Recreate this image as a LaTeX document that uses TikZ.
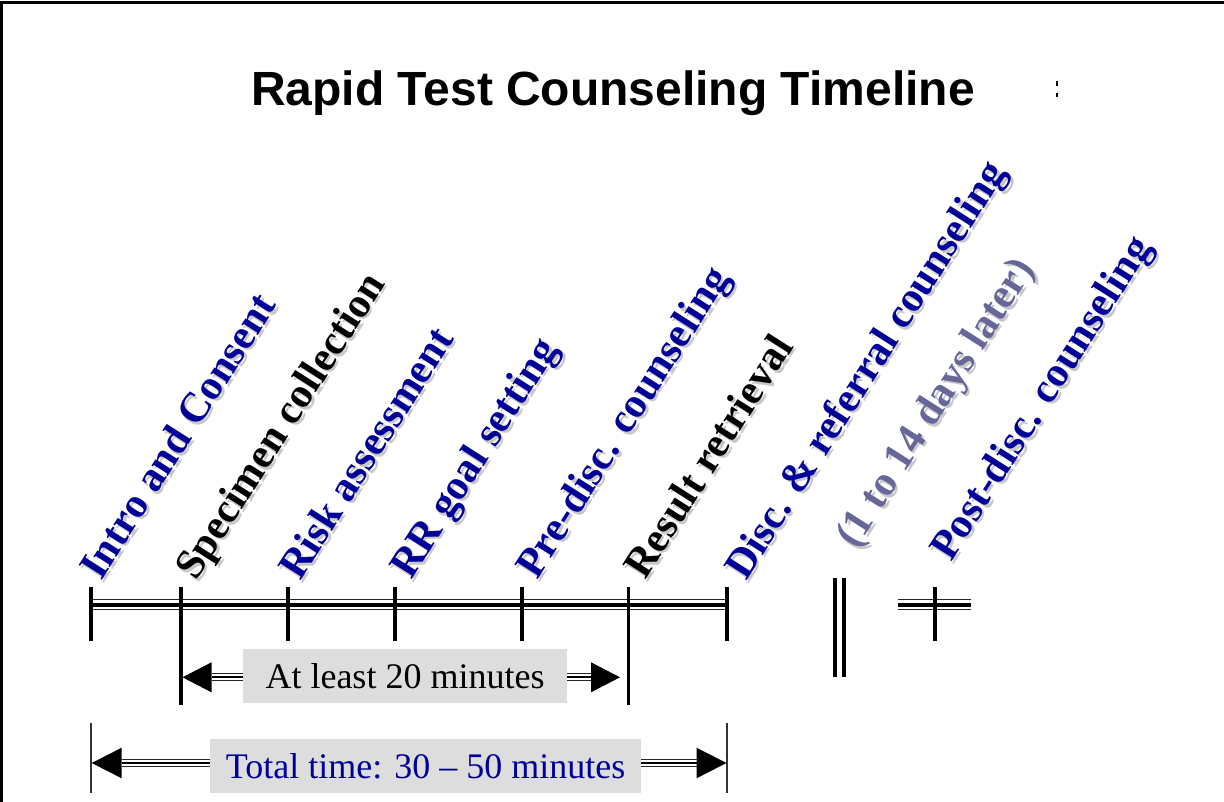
\documentclass[tikz,border=0pt]{standalone}
\usepackage{fontspec}
\setmainfont{Liberation Serif}
\newfontfamily\titlefont{Liberation Sans}
\definecolor{lblue}{RGB}{0,0,153}
\definecolor{lgrayblue}{RGB}{102,102,153}
\definecolor{boxgray}{RGB}{221,221,221}
\definecolor{shadowgray}{RGB}{200,200,200}
\newcommand{\slabel}[4]{%
  \node[lbl, text=shadowgray] at ([shift={(2.5,2.5)}]#2) {#4};
  \node[lbl, text=#3] (#1) at (#2) {#4};}
\newcommand{\tripshaft}[2]{%
  \draw[shaftthick] (#1) -- (#2);
  \draw[shaftthin] ([shift={(0,-3.6)}]#1) -- ([shift={(0,-3.6)}]#2);
  \draw[shaftthin] ([shift={(0,3.6)}]#1) -- ([shift={(0,3.6)}]#2);}
\begin{document}
\begin{tikzpicture}[x=1pt,y=-1pt,
  tickmark/.style={line width=3.6pt},
  thinrule/.style={line width=1.3pt, black!85},
  thickrule/.style={line width=4pt},
  shaftthin/.style={line width=1pt, black!85},
  shaftthick/.style={line width=2pt},
  lbl/.style={rotate=57.5, anchor=base west, inner sep=0pt,
    font=\fontsize{42}{42}\bfseries\selectfont},
  boxtext/.style={fill=boxgray, inner sep=0pt,
    font=\fontsize{36}{36}\selectfont},
  headtip/.style={fill=black}]
\useasboundingbox (0,0) rectangle (1224,802);
% frame
\draw[line width=2.6pt] (1.3,802) -- (1.3,2.6) -- (1224,2.6);
% title
\node[font=\titlefont\bfseries\fontsize{48}{48}\selectfont, anchor=base, inner sep=0pt]
  (title) at (613,106) {Rapid Test Counseling Timeline};
\draw[line width=1.2pt] (1057,81.5) -- (1057,86.5) (1057,93) -- (1057,97);
% tick coordinates
\coordinate (t1) at (91,587);
\coordinate (t2) at (180.7,587);
\coordinate (t3) at (287.7,587);
\coordinate (t4) at (395,587);
\coordinate (t5) at (521.7,587);
\coordinate (t6) at (628.3,587);
\coordinate (t7) at (727,587);
\coordinate (t9) at (935,587);
% main timeline (triple rule)
\draw[thinrule] (91,599.6) -- (727,599.6);
\draw[thickrule] (91,604.7) -- (727,604.7);
\draw[thinrule] (91,609.6) -- (727,609.6);
% post segment
\draw[thinrule] (898,599.6) -- (971,599.6);
\draw[thickrule] (898,604.7) -- (971,604.7);
\draw[thinrule] (898,609.6) -- (971,609.6);
% ticks
\foreach \t in {t1,t3,t4,t5,t7,t9}
  \draw[tickmark] (\t) -- ++(0,53.5);
\draw[tickmark] (t2) -- ++(0,117.5);
\draw[tickmark] (t6) -- ++(0,117.5);
% break mark
\draw[tickmark] (835,578) -- (835,677);
\draw[tickmark] (844,578) -- (844,677);
% labels
\slabel{l1}{101,582}{lblue}{Intro and Consent}
\slabel{l2}{196,582}{black}{Specimen collection}
\slabel{l3}{300,582}{lblue}{Risk assessment}
\slabel{l4}{411,581}{lblue}{RR goal setting}
\slabel{l5}{537,581}{lblue}{Pre-disc. counseling}
\slabel{l6}{645,581}{black}{Result retrieval}
\slabel{l7}{746,582}{lblue}{Disc. \& referral counseling}
\slabel{l8}{856,550}{lgrayblue}{(1 to 14 days later)}
\slabel{l9}{951,563}{lblue}{Post-disc. counseling}
% at least 20 minutes
\node[boxtext, minimum width=324pt, minimum height=54pt] (b20) at (405,676) {At least 20 minutes};
\coordinate (a20l) at (182.5,677.3);
\coordinate (a20r) at (620,677.3);
\coordinate (a20lb) at (211.5,677.3);
\coordinate (a20rb) at (591,677.3);
\coordinate (b20w) at (b20.west |- a20l);
\coordinate (b20e) at (b20.east |- a20r);
\fill[headtip] (a20l) -- ([shift={(0,-15)}]a20lb) -- ([shift={(0,15)}]a20lb) -- cycle;
\fill[headtip] (a20r) -- ([shift={(0,-15)}]a20rb) -- ([shift={(0,15)}]a20rb) -- cycle;
\tripshaft{a20lb}{b20w}
\tripshaft{b20e}{a20rb}
% total time
\draw[line width=1.3pt, black!80] (91,722.7) -- (91,792.7);
\draw[line width=1.3pt, black!80] (727,722.7) -- (727,792.7);
\node[boxtext, text=lblue, minimum width=431pt, minimum height=54pt] (btot) at (425.5,766) {Total time: 30 -- 50 minutes};
\coordinate (atl) at (91.7,763);
\coordinate (atr) at (726.5,763);
\coordinate (atlb) at (121.7,763);
\coordinate (atrb) at (696.5,763);
\coordinate (btw) at (btot.west |- atl);
\coordinate (bte) at (btot.east |- atr);
\fill[headtip] (atl) -- ([shift={(0,-15.3)}]atlb) -- ([shift={(0,15.3)}]atlb) -- cycle;
\fill[headtip] (atr) -- ([shift={(0,-15.3)}]atrb) -- ([shift={(0,15.3)}]atrb) -- cycle;
\tripshaft{atlb}{btw}
\tripshaft{bte}{atrb}
\end{tikzpicture}
\end{document}
